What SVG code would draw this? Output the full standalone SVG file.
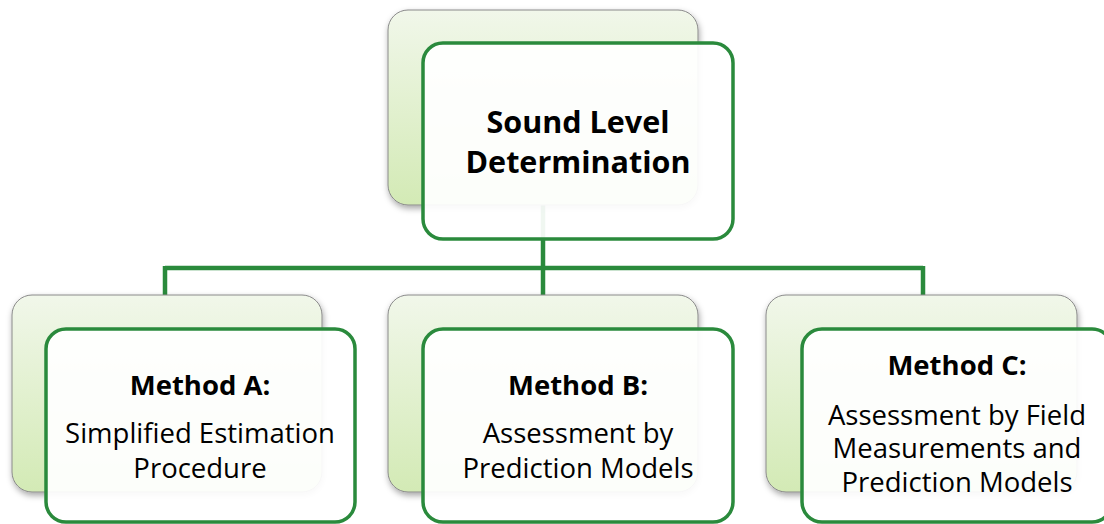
<svg xmlns="http://www.w3.org/2000/svg" width="1104" height="524" viewBox="0 0 1104 524">
<defs>
<linearGradient id="bg" x1="0" y1="0" x2="0" y2="1">
<stop offset="0" stop-color="#f1f7ea"/>
<stop offset="1" stop-color="#d3eab5"/>
</linearGradient>
<filter id="sh" x="-10%" y="-10%" width="130%" height="130%">
<feDropShadow dx="1" dy="3" stdDeviation="3" flood-color="#000" flood-opacity="0.35"/>
</filter>
<style>
.back{fill:url(#bg);stroke:#8a8a8a;stroke-width:1;filter:url(#sh)}
.front{fill:#ffffff;fill-opacity:0.93;stroke:#2a8a3c;stroke-width:3.5}
.conn{fill:none;stroke:#2a8a3c;stroke-width:4.5}
.t{font-family:"Open Sans","Liberation Sans",sans-serif;fill:#000;text-anchor:middle}
.title{font-size:30.5px;font-weight:bold}
.h{font-size:27.5px;font-weight:bold}
.b{font-size:27.5px}
</style>
</defs>
<g id="connectors">
<path class="conn" d="M543,205 V268 M165,268 H923 M165,266 V296 M543,266 V296 M923,266 V296"/>
</g>
<g id="root">
<rect class="back" x="388" y="10" width="310" height="195" rx="20"/>
<rect class="front" x="423" y="43" width="310" height="196" rx="20"/>
<text class="t title" x="578" y="133">Sound Level</text>
<text class="t title" x="578" y="173">Determination</text>
</g>
<g id="methodA">
<rect class="back" x="12" y="295" width="310" height="197" rx="20"/>
<rect class="front" x="46" y="329" width="309" height="193" rx="20"/>
<text class="t h" x="200" y="395">Method A:</text>
<text class="t b" x="200" y="443">Simplified Estimation</text>
<text class="t b" x="200" y="478">Procedure</text>
</g>
<g id="methodB">
<rect class="back" x="388" y="295" width="310" height="197" rx="20"/>
<rect class="front" x="423" y="329" width="310" height="193" rx="20"/>
<text class="t h" x="578" y="395">Method B:</text>
<text class="t b" x="578" y="443">Assessment by</text>
<text class="t b" x="578" y="478">Prediction Models</text>
</g>
<g id="methodC">
<rect class="back" x="766" y="295" width="311" height="197" rx="20"/>
<rect class="front" x="802" y="329" width="310" height="193" rx="20"/>
<text class="t h" x="957" y="375">Method C:</text>
<text class="t b" x="957" y="425">Assessment by Field</text>
<text class="t b" x="957" y="458">Measurements and</text>
<text class="t b" x="957" y="492">Prediction Models</text>
</g>
</svg>
